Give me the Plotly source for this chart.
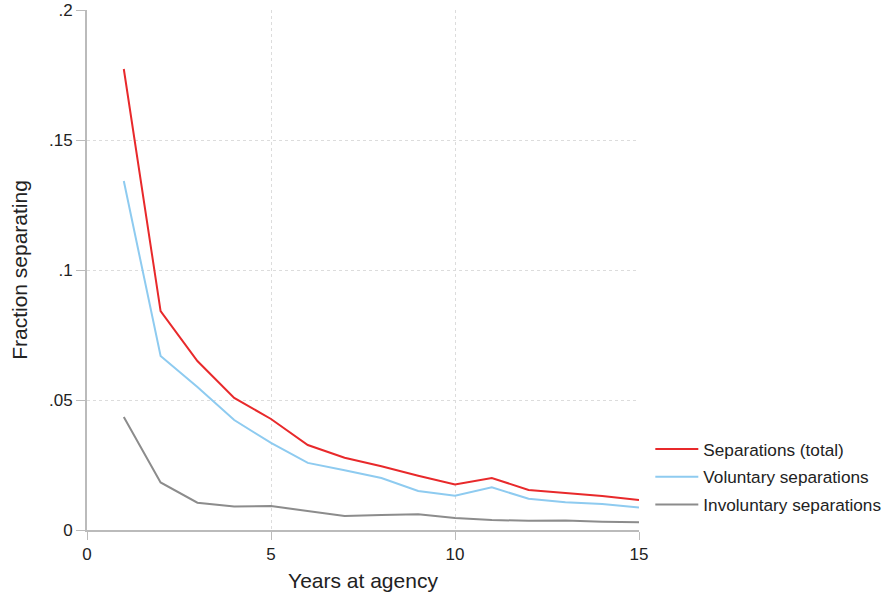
import plotly.graph_objects as go

years = list(range(1, 16))
total = [0.1773, 0.0842, 0.0650, 0.0508, 0.0427, 0.0327, 0.0278, 0.0245, 0.0209,
         0.0175, 0.0200, 0.0154, 0.0142, 0.0131, 0.0115]
voluntary = [0.1342, 0.0669, 0.0550, 0.0423, 0.0335, 0.0258, 0.0230, 0.0200, 0.0150,
             0.0132, 0.0164, 0.0120, 0.0107, 0.0100, 0.0087]
involuntary = [0.0435, 0.0183, 0.0105, 0.0090, 0.0092, 0.0073, 0.0054, 0.0058, 0.0061,
               0.0046, 0.0038, 0.0036, 0.0037, 0.0032, 0.0030]

series = [
    ('Separations (total)', total, '#e8292b'),
    ('Voluntary separations', voluntary, '#8ecbf0'),
    ('Involuntary separations', involuntary, '#8c8c8c'),
]

fig = go.Figure()
for name, vals, color in series:
    fig.add_trace(go.Scatter(
        x=years, y=vals, mode='lines', name=name, legendgroup=name,
        line=dict(color=color, width=2)
    ))

font = 'Liberation Sans, Arial, sans-serif'
fig.update_layout(
    width=886, height=596,
    margin=dict(l=87, r=247, t=10, b=66, autoexpand=False),
    plot_bgcolor='white', paper_bgcolor='white',
    font=dict(family=font, size=17, color='#222'),
    legend=dict(x=1.0205, y=0.19, xanchor='left', yanchor='top',
                font=dict(size=17.2), itemwidth=43, tracegroupgap=2.5),
    xaxis=dict(
        range=[0, 15], tickvals=[0, 5, 10, 15], ticks='outside', ticklen=8,
        tickcolor='#bbb', showline=True, linecolor='#bbb', linewidth=2,
        showgrid=True, gridcolor='#dcdcdc', griddash='dot', gridwidth=1,
        zeroline=False, automargin=False,
        title=dict(text='Years at agency', font=dict(size=21), standoff=10),
    ),
    yaxis=dict(
        range=[0, 0.2], tickvals=[0, 0.05, 0.1, 0.15, 0.2],
        ticktext=['0', '.05', '.1', '.15', '.2'], ticks='outside', ticklen=9,
        tickcolor='#bbb', showline=True, linecolor='#bbb', linewidth=2,
        showgrid=True, gridcolor='#dcdcdc', griddash='dot', gridwidth=1,
        zeroline=False, automargin=False,
        title=dict(text='Fraction separating', font=dict(size=21), standoff=16),
    ),
)

# drop the default 8px body margin so the figure sits at the page corner
fig.write_html('out.html', config={'displayModeBar': False},
               post_script="document.body.style.margin='0';")
